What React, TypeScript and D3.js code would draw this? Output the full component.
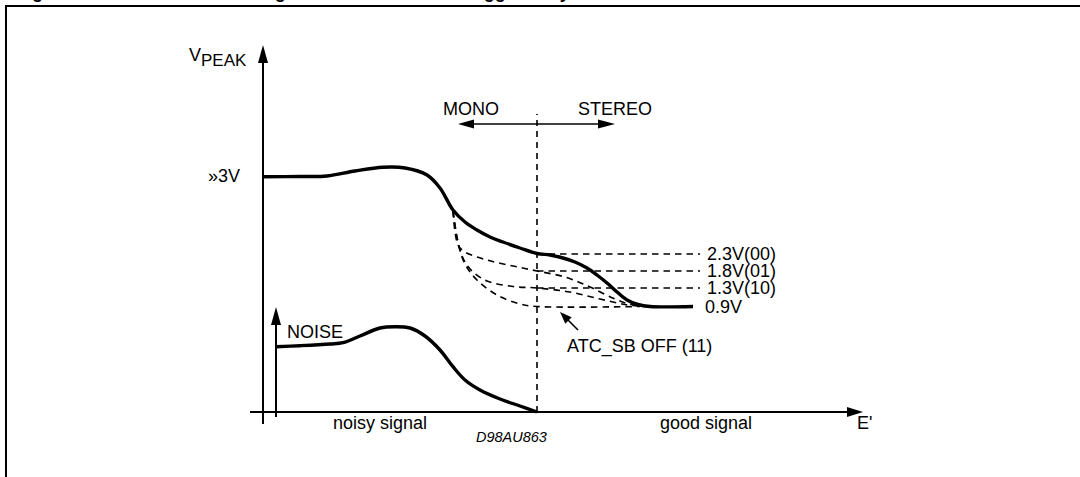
import React from "react";
import * as d3 from "d3";

// ---- data (schematic units: x = E' position, y = voltage level units) ----
const mainX = [0, 37, 64, 92, 120, 142, 164, 177, 190, 202, 214, 227, 240, 257, 274, 287, 300, 312, 324, 334, 344, 354, 364, 375, 387, 430];
const mainY = [235.3, 235.5, 236, 241, 244.7, 244, 237, 224, 202, 190, 182, 175, 170, 164, 158.5, 157, 154, 150, 144, 137, 129, 120, 112, 107.5, 105.5, 105.5];

const noiseX = [13, 37, 67, 80, 97, 117, 132, 147, 162, 177, 190, 202, 217, 237, 257, 274];
const noiseY = [65.3, 66.3, 68, 69.3, 76, 84, 85.3, 84, 76, 62, 45.3, 32, 22, 13, 6, 0];

const atc01X = [190, 195, 202, 224, 250, 274, 302, 327, 352, 370, 385];
const atc01Y = [201, 167, 160, 152, 146, 141, 135, 125, 113, 107, 105.5];

const atc10X = [190, 196, 202, 210, 224, 250, 274, 307, 337, 362, 380];
const atc10Y = [201, 165, 150, 140, 131, 125.5, 124, 120, 113, 107.5, 105.5];

const atc11X = [190, 195, 202, 214, 234, 257, 274, 377];
const atc11Y = [201, 170, 148, 132, 117, 108, 105.5, 105.5];

const levelLabels = ["2.3V(00)", "1.8V(01)", "1.3V(10)"];
const levelValues = [158, 141, 124];
const finalLabel = "0.9V";
const finalValue = 105.5;
const topLabel = "»3V";
const topValue = 235.3;
const stereoX = 274;

const FONT = "'Liberation Sans', Arial, Helvetica, sans-serif";

function zip(xs: number[], ys: number[]): [number, number][] {
  return xs.map((v, i) => [v, ys[i]]);
}

export default function App() {
  const W = 1080;
  const H = 477;
  const x = d3.scaleLinear().domain([0, 600]).range([263, 863]);
  const y = d3.scaleLinear().domain([0, 367]).range([412, 45]);

  const line = d3
    .line<[number, number]>()
    .x((d) => x(d[0]))
    .y((d) => y(d[1]))
    .curve(d3.curveCatmullRom.alpha(0.5));

  const dash = "6.5,5";
  const tri = (tx: number, ty: number, dx: number, dy: number, len: number, hw: number) => {
    const n = Math.hypot(dx, dy);
    const ux = dx / n, uy = dy / n;
    const bx = tx - ux * len, by = ty - uy * len;
    const px = -uy * hw, py = ux * hw;
    return `M${tx},${ty}L${bx + px},${by + py}L${bx - px},${by - py}Z`;
  };

  const x0 = x(0);
  const yAxisTop = 45;
  const noiseAxisX = x(13);
  const monoY = y(288);

  return (
    <svg width={W} height={H} style={{ position: "absolute", left: 0, top: 0, display: "block", background: "#fff" }} fontFamily={FONT}>
      {/* clipped title */}
      <text x={16} y={-2.5} fontSize={18} fontWeight="bold" fill="#000">
        Figure 12. Noise-Blanker Voltage Threshold Control Triggered by Noise
      </text>
      {/* frame */}
      <path d={`M6,${H + 5}L6,6L${W + 5},6`} fill="none" stroke="#000" strokeWidth={2} />

      {/* axes */}
      <line x1={x0} y1={424} x2={x0} y2={yAxisTop + 10} stroke="#000" strokeWidth={2} />
      <path d={tri(x0, yAxisTop, 0, -1, 18, 5)} fill="#000" />
      <line x1={250} y1={y(0)} x2={x(590)} y2={y(0)} stroke="#000" strokeWidth={2} />
      <path d={tri(x(600), y(0), 1, 0, 16, 5)} fill="#000" />
      <line x1={noiseAxisX} y1={417} x2={noiseAxisX} y2={y(105) + 10} stroke="#000" strokeWidth={2} />
      <path d={tri(noiseAxisX, y(105), 0, -1, 18, 5)} fill="#000" />

      {/* stereo threshold line */}
      <line x1={x(stereoX)} y1={y(0)} x2={x(stereoX)} y2={y(298)} stroke="#000" strokeWidth={1.6} strokeDasharray="6,5" />

      {/* MONO / STEREO arrow */}
      <line x1={x(200)} y1={monoY} x2={x(348)} y2={monoY} stroke="#000" strokeWidth={1.6} />
      <path d={tri(x(195), monoY, -1, 0, 16, 4.5)} fill="#000" />
      <path d={tri(x(352), monoY, 1, 0, 17, 4.5)} fill="#000" />
      <text x={x(180)} y={y(297)} fontSize={18}>MONO</text>
      <text x={x(315)} y={y(297)} fontSize={18}>STEREO</text>

      {/* level dashed lines */}
      {levelValues.map((v, i) => (
        <g key={i}>
          <line x1={x(stereoX)} y1={y(v)} x2={x(437)} y2={y(v)} stroke="#000" strokeWidth={1.6} strokeDasharray={dash} />
          <text x={x(444)} y={y(v) + 5.5} fontSize={18}>{levelLabels[i]}</text>
        </g>
      ))}

      {/* ATC dashed curves */}
      {[zip(atc01X, atc01Y), zip(atc10X, atc10Y), zip(atc11X, atc11Y)].map((pts, i) => (
        <path key={i} d={line(pts) || ""} fill="none" stroke="#000" strokeWidth={1.6} strokeDasharray={dash} />
      ))}

      {/* main curve */}
      <path d={line(zip(mainX, mainY)) || ""} fill="none" stroke="#000" strokeWidth={3.4} strokeLinejoin="round" />
      {/* noise curve */}
      <path d={line(zip(noiseX, noiseY)) || ""} fill="none" stroke="#000" strokeWidth={3.4} strokeLinejoin="round" />

      {/* labels */}
      <text x={x(442)} y={y(finalValue) + 6} fontSize={18}>{finalLabel}</text>
      <text x={208} y={y(topValue) + 5} fontSize={18}>{topLabel}</text>
      <text x={189} y={61} fontSize={18}>
        V<tspan dy={5} fontSize={17}>PEAK</tspan>
      </text>
      <text x={x(24)} y={y(74)} fontSize={18}>NOISE</text>
      <text x={x(70)} y={429} fontSize={18}>noisy signal</text>
      <text x={x(397)} y={429} fontSize={18}>good signal</text>
      <text x={x(594)} y={429} fontSize={18}>E'</text>
      <text x={476} y={441.5} fontSize={14.5} fontStyle="italic">D98AU863</text>

      {/* ATC_SB OFF annotation */}
      <line x1={578} y1={330} x2={566} y2={318} stroke="#000" strokeWidth={1.6} />
      <path d={tri(560, 312, -1, -1, 12, 4.5)} fill="#000" />
      <text x={567} y={351.5} fontSize={18}>ATC_SB OFF (11)</text>
    </svg>
  );
}
